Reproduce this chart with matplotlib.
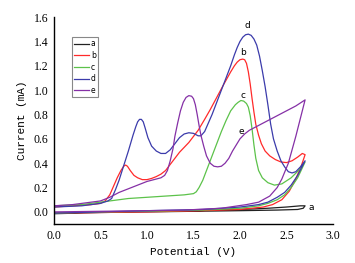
import matplotlib
matplotlib.use('Agg')
import matplotlib.pyplot as plt

# CV curves: forward scan then reverse scan
a_x = [0.0, 0.5, 1.0, 1.5, 2.0, 2.3, 2.5, 2.65, 2.7,
       2.68, 2.62, 2.4, 2.0, 1.5, 1.0, 0.5, 0.0]
a_y = [-0.01, 0.0, 0.005, 0.01, 0.02, 0.03, 0.04, 0.05, 0.05,
       0.03, 0.02, 0.015, 0.01, 0.005, 0.0, -0.005, -0.015]

b_x = [0.0, 0.2, 0.4, 0.5, 0.55, 0.6, 0.64, 0.68, 0.72, 0.75, 0.77, 0.79, 0.82, 0.86,
       0.9, 0.95, 1.0, 1.05, 1.1, 1.15, 1.2, 1.25, 1.3, 1.35, 1.4, 1.45, 1.5, 1.55,
       1.62, 1.68, 1.75, 1.82, 1.9, 1.94, 1.97, 2.0, 2.03, 2.05, 2.07, 2.09, 2.11,
       2.13, 2.15, 2.17, 2.2, 2.23, 2.27, 2.32, 2.38, 2.44, 2.5, 2.56, 2.62, 2.67, 2.7,
       2.66, 2.6, 2.53, 2.45, 2.35, 2.25, 2.0, 1.6, 1.0, 0.5, 0.0]
b_y = [0.04, 0.05, 0.06, 0.07, 0.09, 0.14, 0.21, 0.28, 0.34, 0.375, 0.385, 0.375, 0.34, 0.3,
       0.28, 0.265, 0.265, 0.275, 0.29, 0.31, 0.34, 0.39, 0.44, 0.49, 0.53, 0.57, 0.62, 0.67,
       0.76, 0.84, 0.94, 1.04, 1.15, 1.2, 1.23, 1.25, 1.255, 1.25, 1.22, 1.15, 1.05,
       0.93, 0.82, 0.72, 0.63, 0.56, 0.5, 0.46, 0.43, 0.41, 0.405, 0.42, 0.45, 0.48, 0.47,
       0.38, 0.27, 0.17, 0.1, 0.06, 0.04, 0.02, 0.01, 0.0, -0.005, -0.01]

c_x = [0.0, 0.3, 0.5, 0.6, 0.7, 0.8, 1.0, 1.2, 1.4, 1.45, 1.5, 1.53, 1.56, 1.6, 1.65,
       1.7, 1.75, 1.8, 1.85, 1.9, 1.95, 1.98, 2.01, 2.04, 2.07, 2.09, 2.11, 2.13, 2.15,
       2.17, 2.2, 2.24, 2.3, 2.37, 2.45, 2.55, 2.63, 2.7,
       2.62, 2.55, 2.48, 2.4, 2.3, 2.2, 2.0, 1.6, 1.0, 0.5, 0.0]
c_y = [0.05, 0.06, 0.08, 0.09, 0.1, 0.11, 0.12, 0.13, 0.14, 0.145, 0.15, 0.165, 0.2, 0.26, 0.36,
       0.46, 0.56, 0.66, 0.75, 0.83, 0.88, 0.9, 0.915, 0.91, 0.89, 0.86, 0.79, 0.68, 0.55,
       0.44, 0.34, 0.28, 0.24, 0.22, 0.23, 0.28, 0.34, 0.41,
       0.28, 0.2, 0.14, 0.1, 0.07, 0.05, 0.03, 0.015, 0.005, 0.0, -0.01]

d_x = [0.0, 0.3, 0.5, 0.58, 0.62, 0.66, 0.7, 0.75, 0.8, 0.85, 0.88, 0.9, 0.92, 0.94,
       0.96, 0.98, 1.01, 1.05, 1.1, 1.15, 1.2, 1.25, 1.3, 1.35, 1.4, 1.45, 1.5, 1.55,
       1.58, 1.62, 1.66, 1.7, 1.75, 1.8, 1.85, 1.9, 1.94, 1.97, 2.0, 2.03, 2.06, 2.09,
       2.12, 2.15, 2.18, 2.21, 2.24, 2.27, 2.3, 2.33, 2.36, 2.4, 2.44, 2.48, 2.52, 2.56,
       2.6, 2.65, 2.7,
       2.62, 2.55, 2.48, 2.4, 2.3, 2.2, 2.0, 1.6, 1.0, 0.5, 0.0]
d_y = [0.04, 0.05, 0.07, 0.09, 0.11, 0.18, 0.26, 0.38, 0.5, 0.63, 0.7, 0.74, 0.76, 0.76,
       0.74, 0.69, 0.61, 0.54, 0.5, 0.48, 0.48, 0.51, 0.56, 0.61, 0.64, 0.65, 0.645, 0.625,
       0.625, 0.66, 0.73, 0.8, 0.9, 1.0, 1.1, 1.2, 1.29, 1.35, 1.4, 1.435, 1.455, 1.46,
       1.45, 1.42, 1.37, 1.28, 1.16, 1.03, 0.88, 0.72, 0.6, 0.5, 0.42, 0.37, 0.33, 0.32,
       0.33, 0.37, 0.42,
       0.3, 0.22, 0.16, 0.12, 0.08, 0.06, 0.04, 0.02, 0.01, 0.0, -0.01]

e_x = [0.0, 0.2, 0.4, 0.5, 0.6, 0.7, 0.8, 0.9, 1.0, 1.1, 1.15, 1.19, 1.22, 1.25, 1.28,
       1.3, 1.33, 1.36, 1.39, 1.42, 1.45, 1.48, 1.5, 1.52, 1.54, 1.56, 1.58, 1.61, 1.64,
       1.68, 1.72, 1.76, 1.8, 1.84, 1.88, 1.92, 1.96, 2.0, 2.05, 2.1, 2.2, 2.3, 2.4,
       2.5, 2.6, 2.7,
       2.6, 2.52, 2.45, 2.4, 2.32, 2.2, 2.07, 1.8, 1.4, 1.0, 0.5, 0.0]
e_y = [0.05, 0.06, 0.08, 0.09, 0.12, 0.16, 0.19, 0.22, 0.25, 0.27, 0.28, 0.3, 0.34, 0.42, 0.52,
       0.62, 0.73, 0.83, 0.9, 0.94, 0.955, 0.95, 0.93, 0.88, 0.8, 0.71, 0.63, 0.54, 0.46,
       0.4, 0.375, 0.37, 0.375, 0.4, 0.44, 0.5, 0.55, 0.6, 0.64, 0.67, 0.71, 0.75, 0.79,
       0.83, 0.87, 0.92,
       0.62, 0.4, 0.27, 0.2, 0.13, 0.08, 0.06, 0.03, 0.015, 0.01, 0.005, 0.0]

labels = ['a', 'b', 'c', 'd', 'e']
colors = ['#222222', '#ff2a2a', '#5cc24a', '#3b3bab', '#8530a6']
series = [(a_x, a_y), (b_x, b_y), (c_x, c_y), (d_x, d_y), (e_x, e_y)]

# curve tags next to the peaks
tag_text = ['a', 'b', 'c', 'd', 'e']
tag_x = [2.74, 2.03, 2.03, 2.08, 2.01]
tag_y = [0.04, 1.31, 0.96, 1.53, 0.66]

fig = plt.figure(figsize=(3.55, 2.63), dpi=100)
ax = fig.add_axes([0.152, 0.148, 0.786, 0.787])

for (xs, ys), lab, col in zip(series, labels, colors):
    ax.plot(xs, ys, color=col, lw=0.9, label=lab)

for t, tx, ty in zip(tag_text, tag_x, tag_y):
    ha = 'left' if t == 'a' else 'center'
    ax.text(tx, ty, t, fontsize=6.5, ha=ha, va='center', family='DejaVu Sans')

ax.set_xlim(0, 3.0)
ax.set_ylim(-0.1, 1.6)
ax.set_xticks([0.0, 0.5, 1.0, 1.5, 2.0, 2.5, 3.0])
ax.set_yticks([0.0, 0.2, 0.4, 0.6, 0.8, 1.0, 1.2, 1.4, 1.6])
ax.set_xticklabels(['0.0', '0.5', '1.0', '1.5', '2.0', '2.5', '3.0'], family='Liberation Serif', fontsize=8.5)
ax.set_yticklabels(['0.0', '0.2', '0.4', '0.6', '0.8', '1.0', '1.2', '1.4', '1.6'], family='Liberation Serif', fontsize=8.5)
ax.tick_params(length=0, pad=4)
ax.spines['top'].set_visible(False)
ax.spines['right'].set_visible(False)
ax.spines['left'].set_linewidth(1.0)
ax.spines['bottom'].set_linewidth(1.0)

ax.set_xlabel('Potential (V)', family='Liberation Mono', fontsize=8, labelpad=4)
ax.set_ylabel('Current (mA)', family='Liberation Mono', fontsize=8, labelpad=5)

leg = ax.legend(loc='upper left', bbox_to_anchor=(0.203, 0.858), bbox_transform=fig.transFigure,
                fontsize=5.5, handlelength=2.0, handletextpad=0.2, borderpad=0.25,
                labelspacing=0.35, fancybox=False, framealpha=1, borderaxespad=0)
leg.get_frame().set_edgecolor('#888888')
leg.get_frame().set_linewidth(0.8)

fig.savefig('out.png', dpi=100)
